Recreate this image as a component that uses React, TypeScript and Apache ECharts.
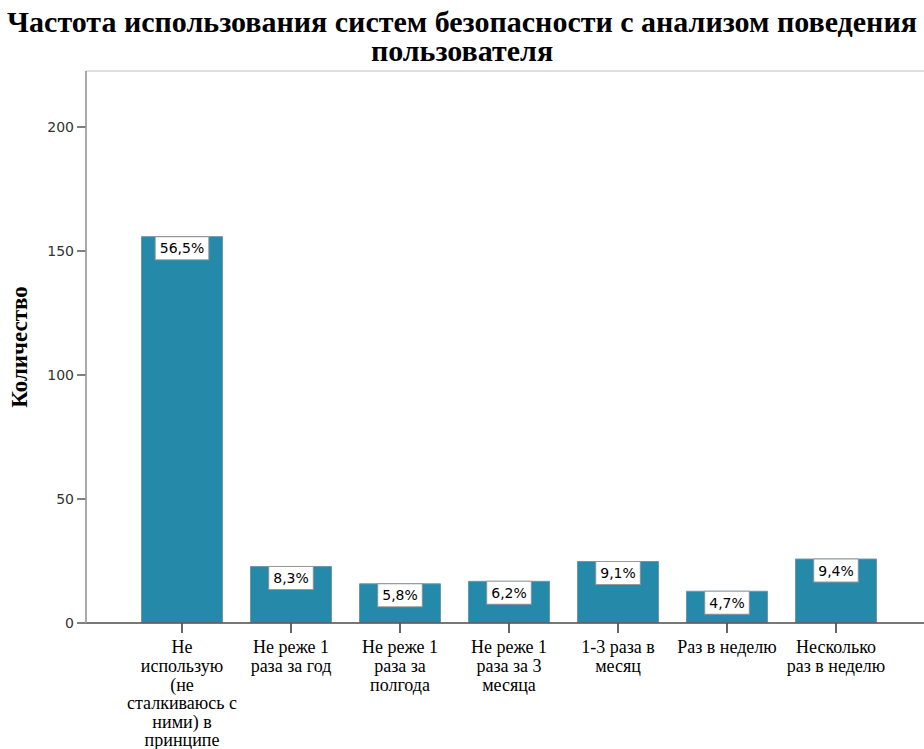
import React, { useEffect, useRef } from "react";
import * as echarts from "echarts";

const categories = [
  "Не\nиспользую\n(не\nсталкиваюсь с\nними) в\nпринципе",
  "Не реже 1\nраза за год",
  "Не реже 1\nраза за\nполгода",
  "Не реже 1\nраза за 3\nмесяца",
  "1-3 раза в\nмесяц",
  "Раз в неделю",
  "Несколько\nраз в неделю",
];
const counts = [156, 23, 16, 17, 25, 13, 26];
const percents = ["56,5%", "8,3%", "5,8%", "6,2%", "9,1%", "4,7%", "9,4%"];
const yTicks = [0, 50, 100, 150, 200];
const titleLines = [
  "Частота использования систем безопасности с анализом поведения",
  "пользователя",
];

const SERIF = "Liberation Serif";

export default function App() {
  const ref = useRef<HTMLDivElement>(null);
  useEffect(() => {
    document.body.style.margin = "0";
    const chart = echarts.init(ref.current!, null, { renderer: "svg" });
    chart.setOption({
      animation: false,
      backgroundColor: "#fff",
      title: titleLines.map((t, i) => ({
        text: t,
        left: "center",
        top: 6 + i * 29,
        padding: 0,
        textStyle: {
          fontFamily: SERIF,
          fontWeight: "bold",
          fontSize: 30,
          color: "#000",
        },
      })),
      graphic: [
        {
          type: "rect",
          shape: { x: 86, y: 71, width: 900, height: 552 },
          style: { fill: "none", stroke: "#bdbdbd", lineWidth: 1 },
          z: 0,
        },
        {
          type: "line",
          shape: { x1: 86, y1: 623, x2: 924, y2: 623 },
          style: { stroke: "#555", lineWidth: 1.5 },
          z: 10,
        },
        {
          type: "line",
          shape: { x1: 86, y1: 71, x2: 86, y2: 623 },
          style: { stroke: "#999", lineWidth: 1.5 },
          z: 10,
        },
      ],
      grid: { left: 127.5, right: 33.5, top: 71, bottom: 126, outerBoundsMode: "none" },
      xAxis: {
        type: "category",
        data: categories,
        axisLine: { show: false },
        axisTick: {
          show: true,
          alignWithLabel: true,
          length: 10,
          lineStyle: { color: "#333", width: 1.5 },
        },
        axisLabel: {
          interval: 0,
          margin: 15,
          fontFamily: SERIF,
          fontSize: 18,
          lineHeight: 18.6,
          color: "#000",
          align: "center",
        },
      },
      yAxis: {
        type: "value",
        min: 0,
        max: 222.6,
        interval: 50,
        offset: 41.5,
        name: "Количество",
        nameLocation: "middle",
        nameGap: 55,
        nameRotate: 90,
        nameTextStyle: {
          fontFamily: SERIF,
          fontWeight: "bold",
          fontSize: 23,
          color: "#000",
        },
        splitLine: { show: false },
        axisLine: { show: false },
        axisTick: {
          show: true,
          length: 9,
          customValues: yTicks,
          lineStyle: { color: "#555", width: 1.5 },
        },
        axisLabel: {
          customValues: yTicks,
          margin: 12,
          fontFamily: "DejaVu Sans",
          fontSize: 14,
          color: "#333",
        },
      },
      series: [
        {
          type: "bar",
          data: counts,
          barWidth: 82,
          itemStyle: {
            color: "#2589aa",
            borderColor: "#6d97a6",
            borderWidth: 1,
          },
          label: {
            show: true,
            position: "insideTop",
            distance: 1,
            formatter: (p: any) => percents[p.dataIndex],
            backgroundColor: "#fff",
            borderColor: "#999",
            borderWidth: 1,
            padding: [4, 4, 4, 4],
            fontFamily: "DejaVu Sans",
            fontSize: 14,
            color: "#000",
          },
        },
      ],
    });
    return () => chart.dispose();
  }, []);
  return <div ref={ref} style={{ width: 924, height: 749 }} />;
}
